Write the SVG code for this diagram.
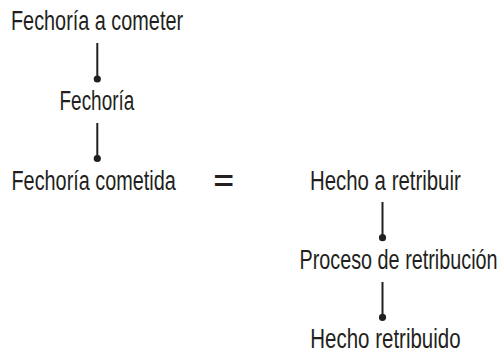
<svg xmlns="http://www.w3.org/2000/svg" width="502" height="356" viewBox="0 0 502 356">
  <style>
    .lbl { font-family: "Liberation Sans", Arial, sans-serif; font-size: 27.5px; fill: #231f20; }
    .conn { stroke: #231f20; stroke-width: 2; fill: none; }
    .eq { font-family: "Liberation Sans", Arial, sans-serif; font-size: 27px; font-weight: bold; fill: #231f20; }
  </style>
  <defs>
    <marker id="dot" markerWidth="8" markerHeight="8" refX="4" refY="4" markerUnits="userSpaceOnUse">
      <circle cx="4" cy="4" r="3.6" fill="#231f20"/>
    </marker>
  </defs>
  <rect width="502" height="356" fill="#ffffff"/>
  <g id="connectors">
    <line class="conn" x1="97.3" y1="43" x2="97.3" y2="79" marker-end="url(#dot)"/>
    <line class="conn" x1="97.3" y1="123" x2="97.3" y2="158.5" marker-end="url(#dot)"/>
    <line class="conn" x1="382.5" y1="202" x2="382.5" y2="237.7" marker-end="url(#dot)"/>
    <line class="conn" x1="382.5" y1="282" x2="382.5" y2="317.3" marker-end="url(#dot)"/>
  </g>
  <g id="n-fechoria-a-cometer"><text class="lbl" transform="translate(11,30) scale(0.722,1)">Fechoría a cometer</text></g>
  <g id="n-fechoria"><text class="lbl" transform="translate(59.5,110) scale(0.69,1)">Fechoría</text></g>
  <g id="n-fechoria-cometida"><text class="lbl" transform="translate(11.5,189.5) scale(0.722,1)">Fechoría cometida</text></g>
  <g id="n-equals"><text class="eq" transform="translate(213.4,190) scale(1.29,1)">=</text></g>
  <g id="n-hecho-a-retribuir"><text class="lbl" transform="translate(310,189.5) scale(0.742,1)">Hecho a retribuir</text></g>
  <g id="n-proceso"><text class="lbl" transform="translate(299.5,268.5) scale(0.72,1)">Proceso de retribución</text></g>
  <g id="n-hecho-retribuido"><text class="lbl" transform="translate(310.3,348.3) scale(0.745,1)">Hecho retribuido</text></g>
</svg>
